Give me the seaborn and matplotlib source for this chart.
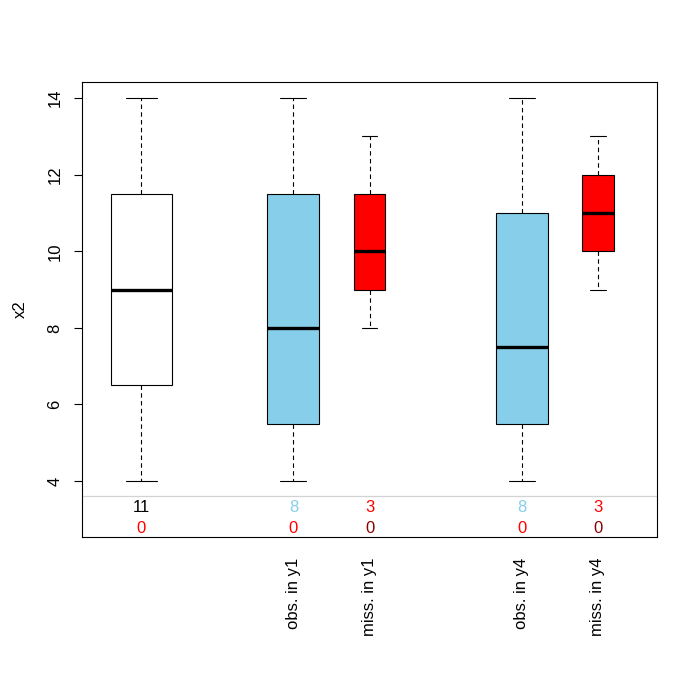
import numpy as np
import matplotlib
matplotlib.use("Agg")
import matplotlib.pyplot as plt
import seaborn as sns

# box positions and labels
positions = [1, 3, 4, 6, 7]
labels = ["", "obs. in y1", "miss. in y1", "obs. in y4", "miss. in y4"]
n_obs = [11, 8, 3, 8, 3]
n_miss = [0, 0, 0, 0, 0]

# five-number summaries
whislo = [4, 4, 8, 4, 9]
q1 = [6.5, 5.5, 9, 5.5, 10]
med = [9, 8, 10, 7.5, 11]
q3 = [11.5, 11.5, 11.5, 11, 12]
whishi = [14, 14, 13, 14, 13]

box_colors = ["white", "skyblue", "red", "skyblue", "red"]
top_colors = ["black", "skyblue", "red", "skyblue", "red"]
bottom_colors = ["red", "red", "#8B0000", "red", "#8B0000"]

sns.set_style("white")
plt.rcParams["font.family"] = ["Liberation Sans", "DejaVu Sans"]
plt.rcParams.update({"text.color": "black", "axes.labelcolor": "black",
                     "xtick.color": "black", "ytick.color": "black"})

fig = plt.figure(figsize=(7, 7), dpi=100)
ax = fig.add_axes([82 / 700, 1 - 537 / 700, 575 / 700, 455 / 700])

stats = [
    dict(whislo=whislo[i], q1=q1[i], med=med[i], q3=q3[i], whishi=whishi[i], fliers=[])
    for i in range(len(positions))
]
widths = [0.8 * np.sqrt(n / max(n_obs)) for n in n_obs]

bp = ax.bxp(
    stats,
    positions=positions,
    widths=widths,
    capwidths=[w / 2 for w in widths],
    patch_artist=True,
    showfliers=False,
    boxprops=dict(edgecolor="black", linewidth=0.8),
    whiskerprops=dict(color="black", linewidth=0.8, linestyle=(0, (4, 3))),
    capprops=dict(color="black", linewidth=0.8),
    medianprops=dict(color="black", linewidth=2.4, solid_capstyle="butt"),
)
for patch, c in zip(bp["boxes"], box_colors):
    patch.set_facecolor(c)

ax.set_xlim(0.22, 7.78)
ax.set_ylim(2.54, 14.42)

# separator for the counts
ax.axhline(3.61, color="#d3d3d3", linewidth=0.9)
for x, a, b, ca, cb in zip(positions, n_obs, n_miss, top_colors, bottom_colors):
    ax.text(x, 3.3, str(a), color=ca, ha="center", va="center", fontsize=12)
    ax.text(x, 2.77, str(b), color=cb, ha="center", va="center", fontsize=12)

ax.set_yticks([4, 6, 8, 10, 12, 14])
ax.set_yticklabels(["4", "6", "8", "10", "12", "14"], rotation=90, va="center")
ax.tick_params(axis="y", direction="out", length=6, width=0.8, pad=8, labelsize=12,
               left=True, colors="black")
ax.set_xticks(positions[1:])
ax.set_xticklabels(labels[1:], rotation=90, fontsize=12)
ax.tick_params(axis="x", length=0, pad=15, colors="black")
ax.set_ylabel("x2", fontsize=12, labelpad=14, color="black")

for s in ax.spines.values():
    s.set_color("black")
    s.set_linewidth(0.8)

fig.savefig("out.png", dpi=100)
